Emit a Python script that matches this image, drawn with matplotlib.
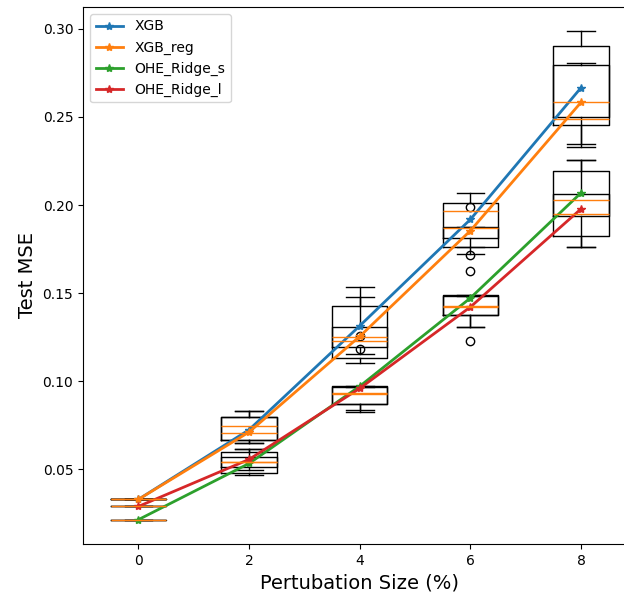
import matplotlib
matplotlib.use("Agg")
import matplotlib.pyplot as plt

# perturbation sizes (%)
sizes = [0, 2, 4, 6, 8]
models = ["XGB", "XGB_reg", "OHE_Ridge_s", "OHE_Ridge_l"]

# box stats per size: (whislo, q1, med, q3, whishi)
xgb_box = [(0.033, 0.033, 0.033, 0.033, 0.033),
           (0.0649, 0.0669, 0.0744, 0.0797, 0.083),
           (0.1153, 0.1195, 0.1252, 0.1428, 0.1536),
           (0.1763, 0.1814, 0.1968, 0.2010, 0.2066),
           (0.2345, 0.2502, 0.2587, 0.2903, 0.2985)]
xgb_reg_box = [(0.033, 0.033, 0.033, 0.033, 0.033),
               (0.0649, 0.0665, 0.0706, 0.0797, 0.083),
               (0.1104, 0.1132, 0.1229, 0.1308, 0.1479),
               (0.1722, 0.1763, 0.1868, 0.1877, 0.1877),
               (0.2332, 0.2453, 0.2489, 0.2795, 0.2804)]
ridge_s_box = [(0.0215, 0.0215, 0.0215, 0.0215, 0.0215),
               (0.0466, 0.0481, 0.0541, 0.0598, 0.0618),
               (0.0839, 0.0873, 0.0934, 0.0972, 0.0972),
               (0.1308, 0.1379, 0.1426, 0.1489, 0.1489),
               (0.1763, 0.1938, 0.2031, 0.2193, 0.2256)]
ridge_l_box = [(0.029, 0.029, 0.029, 0.029, 0.029),
               (0.0498, 0.0513, 0.0541, 0.0570, 0.0618),
               (0.0826, 0.0873, 0.0930, 0.0968, 0.0968),
               (0.1308, 0.1379, 0.1419, 0.1485, 0.1485),
               (0.1763, 0.1826, 0.1947, 0.2063, 0.2256)]

# outliers per size
xgb_fliers = [[], [], [], [0.1716, 0.1625], []]
xgb_reg_fliers = [[], [], [0.126, 0.1182], [0.1987], []]
ridge_s_fliers = [[], [], [], [0.1229], []]
ridge_l_fliers = [[], [], [], [], []]

# mean test MSE
xgb_mean = [0.033, 0.0725, 0.1315, 0.1919, 0.2667]
xgb_reg_mean = [0.033, 0.0712, 0.1255, 0.1855, 0.2584]
ridge_s_mean = [0.0215, 0.0534, 0.0972, 0.1473, 0.2070]
ridge_l_mean = [0.029, 0.0557, 0.0960, 0.1422, 0.1979]

boxes = [xgb_box, xgb_reg_box, ridge_s_box, ridge_l_box]
fliers = [xgb_fliers, xgb_reg_fliers, ridge_s_fliers, ridge_l_fliers]
means = [xgb_mean, xgb_reg_mean, ridge_s_mean, ridge_l_mean]

fig = plt.figure(figsize=(6.24, 5.97), dpi=100)
ax = fig.add_axes([83 / 624, 53 / 597, 553.5 / 624, 537 / 597])

for box, fl in zip(boxes, fliers):
    stats = []
    for (lo, q1, med, q3, hi), f in zip(box, fl):
        stats.append({"whislo": lo, "q1": q1, "med": med, "q3": q3,
                      "whishi": hi, "fliers": f})
    ax.bxp(stats, positions=sizes, widths=1, manage_ticks=False)

for name, m in zip(models, means):
    ax.plot(sizes, m, marker="*", lw=2, ms=6, label=name)

ax.set_xlim(-1, 9)
ax.set_ylim(0.0077, 0.3124)
ax.set_xticks(sizes)
ax.set_yticks([0.05, 0.10, 0.15, 0.20, 0.25, 0.30])
ax.spines["right"].set_visible(False)
ax.tick_params(labelsize=10)
ax.set_xlabel("Pertubation Size (%)", fontsize=14)
ax.set_ylabel("Test MSE", fontsize=14)
ax.legend(loc="upper left", fontsize=10)

fig.savefig("out.png", dpi=100)
